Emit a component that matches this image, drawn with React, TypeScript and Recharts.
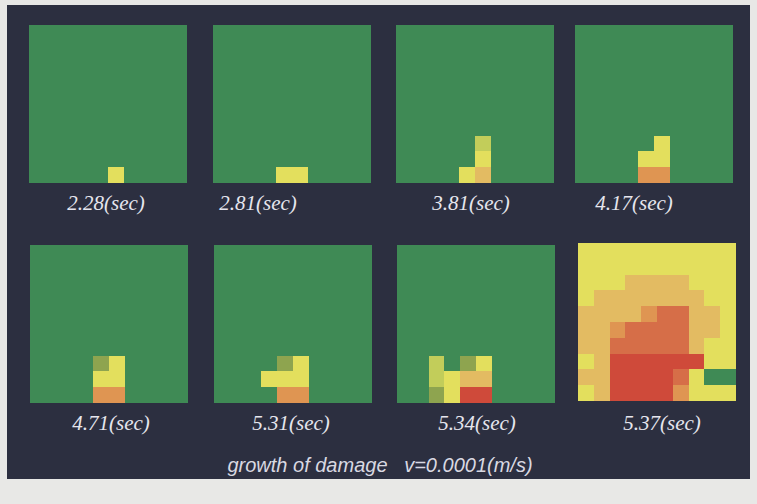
import React from "react";
import { BarChart, Bar, XAxis, YAxis, Cell } from "recharts";

// damage level per cell: 0 green ... 7 red, rows listed top -> bottom
const levelColors = [
  "#3f8a55", // 0 intact
  "#8ea44f", // 1 olive
  "#c2cd5a", // 2 yellow-green
  "#e3df5d", // 3 yellow
  "#e3bb62", // 4 tan
  "#df9552", // 5 orange
  "#d66e48", // 6 red-orange
  "#cf4a3a", // 7 red
];

const columns = ["c0", "c1", "c2", "c3", "c4", "c5", "c6", "c7", "c8", "c9"];

const times = ["2.28", "2.81", "3.81", "4.17", "4.71", "5.31", "5.34", "5.37"];

const empty = "0000000000";

const grid1 = [empty, empty, empty, empty, empty, empty, empty, empty, empty, "0000030000"];
const grid2 = [empty, empty, empty, empty, empty, empty, empty, empty, empty, "0000330000"];
const grid3 = [empty, empty, empty, empty, empty, empty, empty, "0000020000", "0000030000", "0000340000"];
const grid4 = [empty, empty, empty, empty, empty, empty, empty, "0000030000", "0000330000", "0000550000"];
const grid5 = [empty, empty, empty, empty, empty, empty, empty, "0000130000", "0000330000", "0000550000"];
const grid6 = [empty, empty, empty, empty, empty, empty, empty, "0000130000", "0003330000", "0000550000"];
const grid7 = [empty, empty, empty, empty, empty, empty, empty, "0020130000", "0023440000", "0013770000"];
const grid8 = [
  "3333333333",
  "3333333333",
  "3334444333",
  "3444444433",
  "4444566443",
  "4456666443",
  "4466666433",
  "3477777733",
  "4477776300",
  "3477775333",
];

const grids = [grid1, grid2, grid3, grid4, grid5, grid6, grid7, grid8];

// layout
const panelPos = [
  [29, 25], [213, 25], [396, 25], [575, 25],
  [30, 245], [214, 245], [397, 245], [578, 243],
];
const labelPos = [
  [106, 203], [258, 203], [471, 203], [634, 203],
  [111, 423], [291, 423], [477, 423], [662, 423],
];

function toRows(grid: string[]) {
  // one record per column, stacked value 1 per row
  return columns.map((c) => {
    const rec: any = { col: c };
    grid.forEach((_, ri) => {
      rec["r" + ri] = 1;
    });
    return rec;
  });
}

function Panel({ grid }: { grid: string[] }) {
  const data = toRows(grid);
  // bottom row first so it sits at the base of the stack
  const rowIdx = grid.map((_, i) => grid.length - 1 - i);
  return (
    <div style={{ width: 158, height: 158, background: levelColors[Number(grid[0][0])] }}>
      <BarChart
        width={158}
        height={158}
        data={data}
        margin={{ top: 0, right: 0, bottom: 0, left: 0 }}
        barCategoryGap={0}
        barGap={0}
      >
        <XAxis dataKey="col" hide />
        <YAxis hide domain={[0, 10]} />
        {rowIdx.map((ri) => (
          <Bar
            key={ri}
            dataKey={"r" + ri}
            stackId="a"
            isAnimationActive={false}
            shapeRendering="crispEdges"
          >
            {columns.map((c, ci) => {
              const color = levelColors[Number(grid[ri][ci])];
              return <Cell key={c} fill={color} stroke="none" />;
            })}
          </Bar>
        ))}
      </BarChart>
    </div>
  );
}

export default function App() {
  return (
    <div
      style={{
        position: "absolute",
        left: 0,
        top: 0,
        width: 757,
        height: 504,
        background: "#e8e8e6",
        overflow: "hidden",
      }}
    >
      <div
        style={{
          position: "absolute",
          left: 7,
          top: 5,
          width: 743,
          height: 474,
          background: "#2c2f40",
        }}
      />
      {grids.map((g, i) => (
        <div
          key={i}
          style={{ position: "absolute", left: panelPos[i][0], top: panelPos[i][1] }}
        >
          <Panel grid={g} />
        </div>
      ))}
      {times.map((t, i) => (
        <div
          key={t}
          style={{
            position: "absolute",
            left: labelPos[i][0] - 60,
            top: labelPos[i][1] - 14,
            width: 120,
            textAlign: "center",
            fontFamily: "'Liberation Serif', serif",
            fontStyle: "italic",
            fontSize: 21,
            lineHeight: "28px",
            color: "#e6e6ee",
          }}
        >
          {t}(sec)
        </div>
      ))}
      <div
        style={{
          position: "absolute",
          left: 180,
          top: 452,
          width: 400,
          textAlign: "center",
          fontFamily: "'Liberation Sans', sans-serif",
          fontStyle: "italic",
          fontSize: 20,
          lineHeight: "26px",
          color: "#d9d9e2",
          whiteSpace: "pre",
        }}
      >
        {"growth of damage   v=0.0001(m/s)"}
      </div>
    </div>
  );
}
